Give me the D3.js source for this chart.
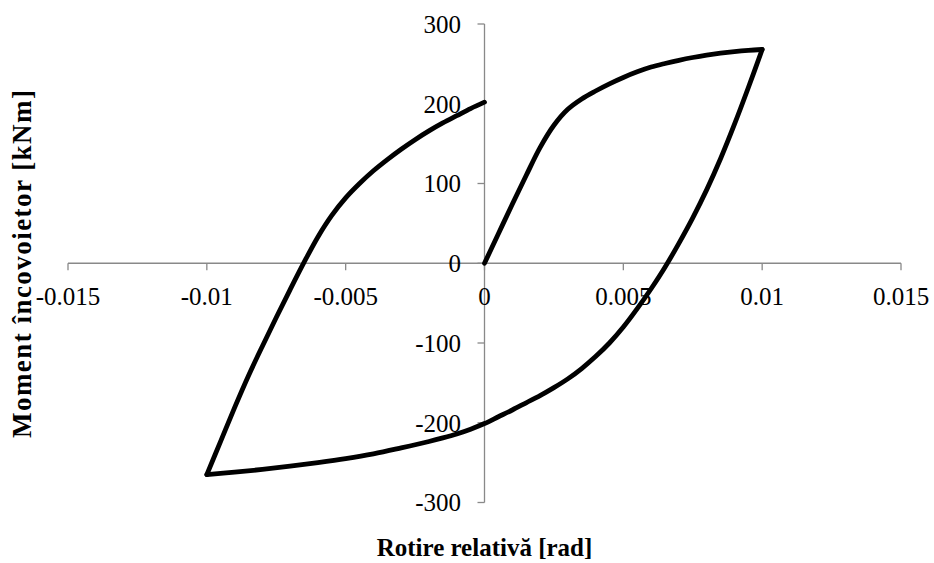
<!DOCTYPE html>
<html>
<head>
<meta charset="utf-8">
<script src="https://cdn.jsdelivr.net/npm/d3@7"></script>
<style>
  html, body { margin: 0; padding: 0; background: #fff; }
  svg { display: block; }
  text { font-family: "Liberation Serif", "Times New Roman", serif; fill: #000; }
</style>
</head>
<body>
<svg id="chart" width="934" height="563"></svg>
<script>
// ---- data ----
const xTicks = [-0.015, -0.01, -0.005, 0, 0.005, 0.01, 0.015];
const xTickLabels = ["-0.015", "-0.01", "-0.005", "0", "0.005", "0.01", "0.015"];
const yTicks = [-300, -200, -100, 0, 100, 200, 300];
const yTickLabels = ["-300", "-200", "-100", "0", "100", "200", "300"];

// loading branch
const loadRot = [0, 0.0005, 0.001, 0.0015, 0.002, 0.0025, 0.003, 0.0035, 0.004, 0.0045, 0.005, 0.0055, 0.006, 0.0065, 0.007, 0.0075, 0.008, 0.0085, 0.009, 0.0095, 0.01];
const loadMom = [0, 37, 74, 110, 145, 173, 193, 206, 216, 225, 233, 240, 246, 250.5, 254.5, 258, 261, 263.5, 265.5, 267, 268];
// unloading branch
const unloadRot = [0.01, 0.0095, 0.009, 0.0085, 0.008, 0.0075, 0.007, 0.0065, 0.006, 0.0055, 0.005, 0.0045, 0.004, 0.0035, 0.003, 0.0025, 0.002, 0.0015, 0.001, 0.0005, 0, -0.0005, -0.001, -0.0015, -0.002, -0.003, -0.004, -0.005, -0.006, -0.007, -0.008, -0.009, -0.01];
const unloadMom = [268, 220, 174, 131, 92, 57, 25, -5, -32, -57, -80, -100, -117, -132, -145, -156, -166, -175, -184, -192.5, -201, -208, -214, -219, -223.5, -231.5, -239, -245, -250, -254.5, -258.5, -262, -265];
// reloading branch
const reloadRot = [-0.01, -0.0095, -0.009, -0.0085, -0.008, -0.0075, -0.007, -0.0065, -0.006, -0.0055, -0.005, -0.0045, -0.004, -0.0035, -0.003, -0.0025, -0.002, -0.0015, -0.001, -0.0005, 0];
const reloadMom = [-265, -223, -181, -141, -104, -68, -33, 1, 33, 60, 82, 100, 116, 130, 143, 155, 166, 176, 185, 194, 202];

const xTitle = "Rotire relativă [rad]";
const yTitle = "Moment încovoietor [kNm]";

// ---- layout ----
const svg = d3.select("#chart");
const x = d3.scaleLinear().domain([-0.015, 0.015]).range([68, 901]);
const y = d3.scaleLinear().domain([-300, 300]).range([502.5, 24]);
const axisColor = "#898989";
const fontSize = 25;

// x axis (at y = 0)
const xAxisG = svg.append("g").attr("transform", `translate(0,${y(0)})`);
xAxisG.append("line").attr("x1", x(-0.015)).attr("x2", x(0.015))
  .attr("stroke", axisColor).attr("stroke-width", 1.3);
xAxisG.selectAll(".xt").data(xTicks).enter().append("line")
  .attr("x1", d => x(d)).attr("x2", d => x(d)).attr("y1", 0).attr("y2", 7)
  .attr("stroke", axisColor).attr("stroke-width", 1.3);

// y axis (at x = 0)
const yAxisG = svg.append("g").attr("transform", `translate(${x(0)},0)`);
yAxisG.append("line").attr("y1", y(-300)).attr("y2", y(300))
  .attr("stroke", axisColor).attr("stroke-width", 1.3);
yAxisG.selectAll(".yt").data(yTicks).enter().append("line")
  .attr("x1", -7).attr("x2", 0).attr("y1", d => y(d)).attr("y2", d => y(d))
  .attr("stroke", axisColor).attr("stroke-width", 1.3);

// series
const line = d3.line().x(d => x(d[0])).y(d => y(d[1])).curve(d3.curveCatmullRom.alpha(0.5));
const branches = [
  d3.zip(loadRot, loadMom),
  d3.zip(unloadRot, unloadMom),
  d3.zip(reloadRot, reloadMom)
];
svg.append("g").selectAll("path").data(branches).enter().append("path")
  .attr("d", line)
  .attr("fill", "none").attr("stroke", "#000").attr("stroke-width", 4.8)
  .attr("stroke-linejoin", "round").attr("stroke-linecap", "round");

// tick labels
svg.append("g").selectAll("text").data(xTicks).enter().append("text")
  .attr("x", d => x(d)).attr("y", y(0) + 42)
  .attr("text-anchor", "middle").attr("font-size", fontSize)
  .text((d, i) => xTickLabels[i]);

svg.append("g").selectAll("text").data(yTicks).enter().append("text")
  .attr("x", 461).attr("y", d => y(d)).attr("dy", "0.35em")
  .attr("text-anchor", "end").attr("font-size", fontSize)
  .text((d, i) => yTickLabels[i]);

// axis titles
svg.append("text").attr("x", x(0)).attr("y", 556)
  .attr("text-anchor", "middle").attr("font-size", fontSize).attr("font-weight", "bold")
  .text(xTitle);

svg.append("text").attr("transform", `translate(31,264) rotate(-90)`)
  .attr("text-anchor", "middle").attr("font-size", 27).attr("font-weight", "bold")
  .attr("textLength", 348).attr("lengthAdjust", "spacing")
  .text(yTitle);
</script>
</body>
</html>
